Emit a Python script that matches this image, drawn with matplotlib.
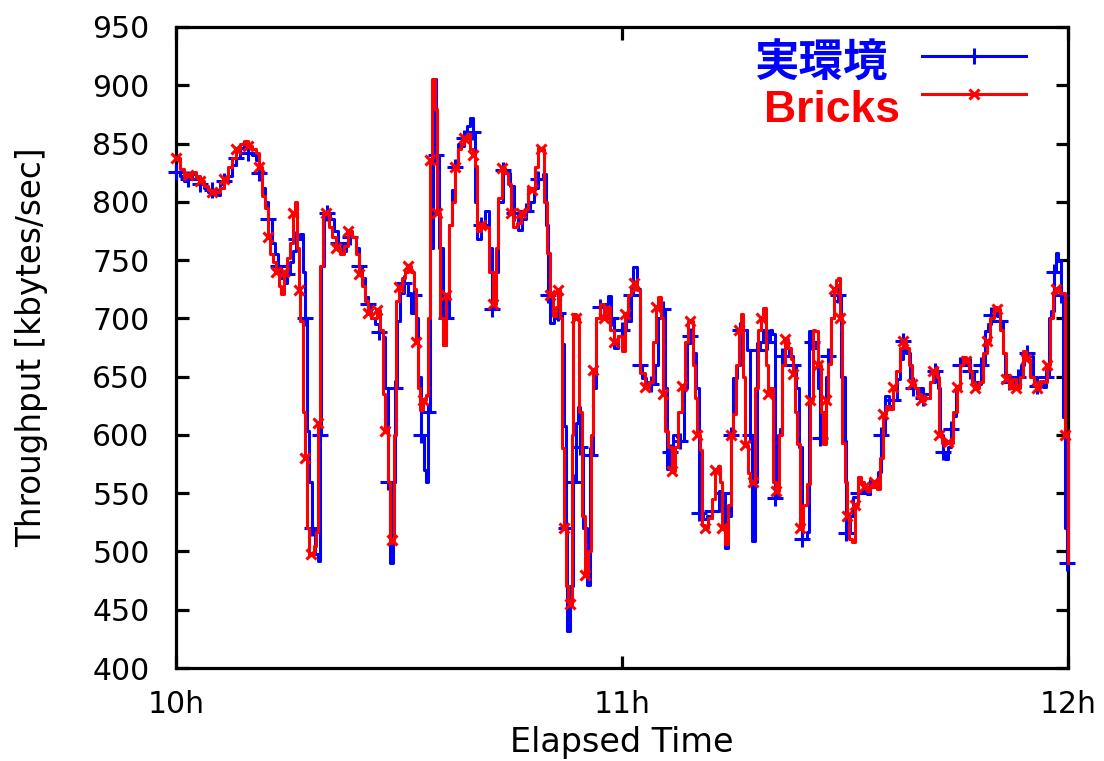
import matplotlib
matplotlib.use("Agg")
import matplotlib.pyplot as plt
from matplotlib.lines import Line2D

# Elapsed time in minutes since 10h, throughput in kbytes/sec
t_real = [0.0, 0.5, 1.1, 1.6, 2.2, 2.7, 3.2, 3.8, 4.3, 4.8, 5.4, 5.9, 6.5, 7.0, 7.5, 8.1, 8.6, 9.1, 9.7, 10.2,
          10.8, 11.2, 11.6, 12.0, 12.4, 12.9, 13.3, 13.7, 14.1, 14.5, 14.9, 15.3, 15.7, 16.1, 16.7, 17.1, 17.4,
          17.6, 17.9, 18.3, 18.7, 19.1, 19.4, 19.5, 19.9, 20.3, 20.7, 21.3, 21.8, 22.3, 22.9, 23.4, 23.8, 24.2,
          24.6, 25.0, 25.4, 25.8, 26.2, 26.8, 27.3, 27.8, 28.1, 28.5, 28.8, 29.2, 29.5, 29.7, 30.1, 30.7, 31.2,
          31.6, 32.0, 32.3, 32.6, 33.0, 33.4, 33.6, 33.9, 34.2, 34.6, 35.0, 35.4, 35.9, 36.3, 36.7, 37.1, 37.5,
          37.9, 38.3, 38.7, 39.1, 39.6, 40.0, 40.2, 40.5, 41.0, 41.6, 42.1, 42.5, 42.9, 43.3, 44.0, 44.5, 44.9,
          45.5, 46.0, 46.5, 47.1, 47.6, 48.2, 48.7, 49.4, 49.8, 50.0, 50.3, 50.9, 51.4, 51.9, 52.2, 52.5, 52.6,
          53.0, 53.4, 53.8, 54.1, 54.4, 54.8, 55.3, 55.7, 56.1, 56.5, 57.0, 57.6, 58.1, 58.5, 58.9, 59.5, 60.0,
          60.5, 60.8, 61.2, 61.5, 62.0, 62.4, 62.7, 63.2, 63.9, 64.4, 64.8, 65.5, 65.8, 66.0, 66.4, 66.9, 67.4,
          67.8, 68.3, 68.7, 69.1, 69.6, 70.0, 70.4, 70.9, 71.4, 72.1, 72.6, 73.0, 73.5, 73.9, 74.3, 74.7, 74.9,
          75.5, 75.9, 76.3, 76.8, 77.2, 77.5, 77.9, 78.2, 78.6, 79.0, 79.5, 79.9, 80.2, 80.6, 81.0, 81.3, 81.5,
          81.9, 82.5, 83.0, 83.4, 83.8, 84.2, 84.9, 85.2, 85.6, 86.0, 86.4, 86.6, 87.0, 87.4, 87.7, 88.1, 88.5,
          89.1, 89.5, 90.0, 90.1, 90.7, 91.1, 91.7, 92.3, 93.0, 93.4, 93.9, 94.4, 94.8, 95.4, 95.9, 96.5, 97.0,
          97.4, 97.8, 98.2, 98.7, 99.1, 99.7, 100.1, 100.5, 100.8, 101.4, 102.1, 102.5, 102.8, 103.2, 103.5,
          103.9, 104.3, 104.5, 104.9, 105.5, 105.9, 106.4, 106.8, 107.4, 107.9, 108.3, 108.8, 109.2, 109.6,
          110.0, 110.4, 110.9, 111.3, 111.5, 112.1, 112.5, 112.9, 113.3, 113.7, 114.1, 114.5, 114.9, 115.3,
          115.8, 116.2, 116.6, 117.0, 117.4, 117.7, 118.1, 118.4, 118.7, 119.1, 119.3, 119.6, 119.9]
v_real = [826, 822, 818, 820, 824, 820, 815, 812, 808, 810, 806, 815, 818, 822, 832, 838, 846, 848, 842, 840,
          836, 825, 812, 800, 785, 765, 755, 745, 735, 730, 738, 748, 758, 768, 772, 740, 700,
          603, 560, 520, 498, 492, 600, 745, 788, 790, 785, 775, 765, 758, 765, 770, 770, 760,
          745, 735, 718, 712, 700, 695, 688, 684, 640, 560, 490, 560, 640, 698, 722, 730, 722,
          705, 720, 700, 650, 600, 570, 560, 620, 760, 905, 840, 760, 677, 700, 780, 810, 830,
          850, 848, 855, 865, 872, 860, 800, 768, 780, 792, 760, 708, 740, 800, 827, 825, 814,
          790, 776, 785, 792, 800, 812, 820, 824, 780, 720, 696, 700, 705, 678, 608, 520, 432,
          470, 560, 610, 624, 590, 520, 471, 583, 640, 700, 710, 712, 719, 700, 675, 685, 690,
          705, 698, 720, 744, 725, 660, 649, 645, 644, 660, 700, 708, 640, 571, 585, 600, 598,
          595, 640, 679, 685, 670, 640, 533, 528, 530, 535, 535, 552, 550, 503, 530, 600, 649,
          660, 690, 690, 673, 600, 509, 560, 673, 680, 690, 680, 690, 687, 546, 600, 605, 668,
          675, 668, 660, 640, 590, 511, 517, 689, 680, 675, 640, 597, 620, 650, 668, 700, 715,
          720, 650, 595, 516, 530, 547, 550, 552, 549, 555, 560, 568, 600, 633, 625, 630, 648,
          665, 681, 670, 649, 640, 635, 640, 632, 635, 645, 655, 640, 600, 585, 579,
          590, 605, 616, 640, 660, 662, 665, 655, 645, 644, 660, 689, 695, 703,
          706, 702, 698, 670, 651, 645, 640, 644, 650, 660, 665, 670, 668, 650,
          642, 645, 641, 650, 700, 706, 740, 756, 749, 720, 615, 520, 490]

t_bricks = [0.0, 0.5, 1.1, 1.6, 2.2, 2.7, 3.2, 3.8, 4.3, 4.8, 5.4, 5.9, 6.5, 7.0, 7.5, 8.1, 8.6, 9.1, 9.7, 10.2,
            10.8, 11.2, 11.6, 12.0, 12.4, 12.6, 13.0, 13.5, 13.9, 14.1, 14.5, 14.9, 15.3, 15.7, 16.0, 16.3, 16.5,
            16.7, 17.1, 17.4, 17.6, 17.9, 18.2, 18.6, 18.8, 19.1, 19.4, 19.8, 20.2, 20.6, 21.0, 21.5, 22.1, 22.6,
            23.1, 23.7, 24.2, 24.6, 25.0, 25.4, 25.8, 26.2, 26.6, 27.0, 27.4, 27.8, 28.1, 28.5, 28.8, 29.1, 29.3,
            29.6, 30.0, 30.4, 30.8, 31.2, 31.6, 32.0, 32.3, 32.6, 32.8, 33.2, 33.6, 33.9, 34.2, 34.4, 34.8, 35.1,
            35.5, 35.9, 36.3, 36.7, 37.1, 37.5, 37.9, 38.3, 38.7, 39.1, 39.6, 40.0, 40.2, 40.5, 41.0, 41.6, 42.1,
            42.6, 43.0, 43.3, 43.9, 44.3, 44.7, 45.1, 45.3, 45.9, 46.4, 46.9, 47.4, 47.9, 48.3, 48.7, 49.1, 49.5,
            49.9, 50.3, 50.7, 51.1, 51.4, 51.7, 51.9, 52.2, 52.5, 52.7, 53.0, 53.3, 53.4, 53.8, 54.2, 54.6, 55.0,
            55.4, 55.8, 56.1, 56.5, 57.0, 57.6, 58.0, 58.4, 58.9, 59.5, 60.0, 60.4, 60.8, 61.2, 61.6, 62.0, 62.4,
            63.1, 63.6, 64.2, 64.6, 64.8, 65.2, 65.5, 65.8, 66.2, 66.7, 67.1, 67.5, 68.1, 68.5, 68.9, 69.1, 69.6,
            69.8, 70.1, 70.5, 70.8, 71.2, 71.6, 72.1, 72.5, 72.9, 73.2, 73.5, 73.9, 74.3, 74.7, 74.9, 75.3, 75.7,
            76.0, 76.3, 76.5, 76.9, 77.2, 77.6, 77.9, 78.3, 78.7, 79.0, 79.4, 79.6, 79.9, 80.3, 80.7, 81.1, 81.5,
            81.9, 82.3, 82.7, 83.0, 83.3, 83.5, 83.9, 84.3, 84.9, 85.3, 85.7, 86.0, 86.4, 86.8, 87.0, 87.4, 87.7,
            88.1, 88.5, 88.8, 89.1, 89.3, 89.6, 90.0, 90.3, 90.6, 90.9, 91.3, 91.7, 92.1, 92.6, 93.0, 93.4, 93.9,
            94.3, 94.7, 95.1, 95.5, 95.9, 96.5, 96.9, 97.4, 97.8, 98.2, 98.6, 99.0, 99.4, 99.8, 100.2, 100.8,
            101.4, 101.8, 102.1, 102.4, 102.6, 103.0, 103.5, 103.9, 104.1, 104.5, 105.1, 105.5, 105.9, 106.3,
            106.7, 107.1, 107.5, 108.0, 108.6, 109.1, 109.5, 110.0, 110.4, 110.9, 111.3, 111.7, 112.1, 112.5,
            113.0, 113.5, 113.9, 114.3, 114.9, 115.4, 115.8, 116.2, 116.8, 117.2, 117.6, 118.0, 118.4, 118.9,
            119.3, 119.6, 120.0]
v_bricks = [838, 828, 822, 823, 826, 822, 818, 814, 810, 808, 808, 812, 820, 830, 838, 845, 850, 852, 848, 845,
            842, 830, 805, 795, 770, 755, 748, 740, 728, 721, 740, 752, 765, 790, 800, 760, 724,
            698, 620, 580, 520, 497, 498, 505, 517, 610, 745, 790, 790, 778, 770, 760, 755, 762,
            775, 770, 755, 738, 728, 715, 705, 700, 700, 707, 690, 635, 603, 560, 507, 510, 600,
            715, 727, 735, 740, 745, 740, 725, 680, 640, 621, 630, 634, 700, 836, 905, 880, 790,
            700, 677, 720, 780, 800, 830, 845, 850, 855, 858, 845, 840, 831, 775, 780, 778, 740,
            712, 760, 803, 829, 825, 815, 790, 778, 782, 790, 794, 812, 810, 830, 846, 845, 800,
            756, 720, 702, 710, 724, 700, 589, 520, 470, 458, 455, 600, 704, 700, 620, 530, 480,
            500, 600, 656, 700, 712, 700, 710, 690, 680, 685, 672, 704, 720, 724, 730, 724, 653,
            641, 645, 680, 710, 718, 700, 635, 603, 590, 569, 590, 620, 642, 680, 698, 698, 660,
            632, 600, 587, 523, 520, 529, 545, 570, 573, 560, 520, 506, 540, 600, 618, 660, 690,
            704, 650, 591, 567, 560, 560, 640, 690, 700, 709, 660, 635, 640, 560, 552, 600, 660,
            682, 675, 665, 652, 620, 592, 520, 540, 558, 630, 690, 689, 660, 620, 592, 630, 661,
            700, 725, 733, 735, 700, 593, 560, 530, 511, 508, 540, 564, 560, 555, 552, 555, 560,
            554, 580, 618, 625, 622, 641, 655, 675, 681, 675, 660, 644, 640, 635, 630, 632,
            645, 655, 657, 650, 600, 593, 595, 594, 593, 620, 641, 660, 667, 663,
            655, 645, 640, 645, 670, 681, 700, 710, 708, 690, 670, 648, 640, 648,
            640, 650, 672, 665, 650, 645, 640, 646, 645, 660, 700, 722, 725, 722,
            722, 600, 490]

x_ticks = [0, 60, 120]
x_labels = ["10h", "11h", "12h"]
y_ticks = list(range(400, 951, 50))
series_names = ["実環境", "Bricks"]

BLUE = "#0000ff"
RED = "#ff0000"
LW = 2.2

plt.rcParams["font.family"] = ["DejaVu Sans"]

fig = plt.figure(figsize=(11.04, 7.61), dpi=100)
ax = fig.add_axes([176 / 1104, 1 - 668 / 761, (1068 - 176) / 1104, (668 - 27) / 761])

ax.plot(t_real, v_real, color=BLUE, lw=LW, drawstyle="steps-post", marker="+",
        markersize=11, markeredgewidth=2.2, markevery=3, clip_on=False, zorder=3)
ax.plot(t_bricks, v_bricks, color=RED, lw=LW, drawstyle="steps-post", marker="x",
        markersize=7, markeredgewidth=2.2, markevery=3, clip_on=False, zorder=4)

ax.set_xlim(0, 120)
ax.set_ylim(400, 950)
ax.set_xticks(x_ticks)
ax.set_xticklabels(x_labels)
ax.set_yticks(y_ticks)

for s in ax.spines.values():
    s.set_linewidth(2.3)
    s.set_color("black")
ax.tick_params(direction="in", length=9, width=2.3, top=True, right=True,
               labelsize=21.5, colors="black")
ax.tick_params(axis="y", pad=19)
ax.tick_params(axis="x", pad=16)

ax.set_xlabel("Elapsed Time", fontsize=24)
ax.set_ylabel("Throughput [kbytes/sec]", fontsize=23.5)
ax.xaxis.set_label_coords(0.5, -0.09)
ax.yaxis.set_label_coords(-0.143, 0.5)

# key: label text to the left of each sample line
fig.text(888 / 1104, 1 - 64 / 761, series_names[0], color=BLUE, fontsize=32, fontweight="bold",
         family=["Noto Sans CJK JP", "DejaVu Sans"], ha="right", va="center")
fig.text(900 / 1104, 1 - 110 / 761, series_names[1], color=RED, fontsize=32, fontweight="bold",
         family=["Liberation Sans", "DejaVu Sans"], ha="right", va="center")
for yk, col, mk, ms in [(1 - 56 / 761, BLUE, "+", 11), (1 - 94 / 761, RED, "x", 7)]:
    fig.add_artist(Line2D([922 / 1104, 1026 / 1104], [yk, yk], color=col, lw=LW,
                          transform=fig.transFigure))
    fig.add_artist(Line2D([974 / 1104], [yk], color=col, marker=mk, markersize=ms,
                          markeredgewidth=2.2, transform=fig.transFigure))

fig.savefig("out.png", dpi=100)
